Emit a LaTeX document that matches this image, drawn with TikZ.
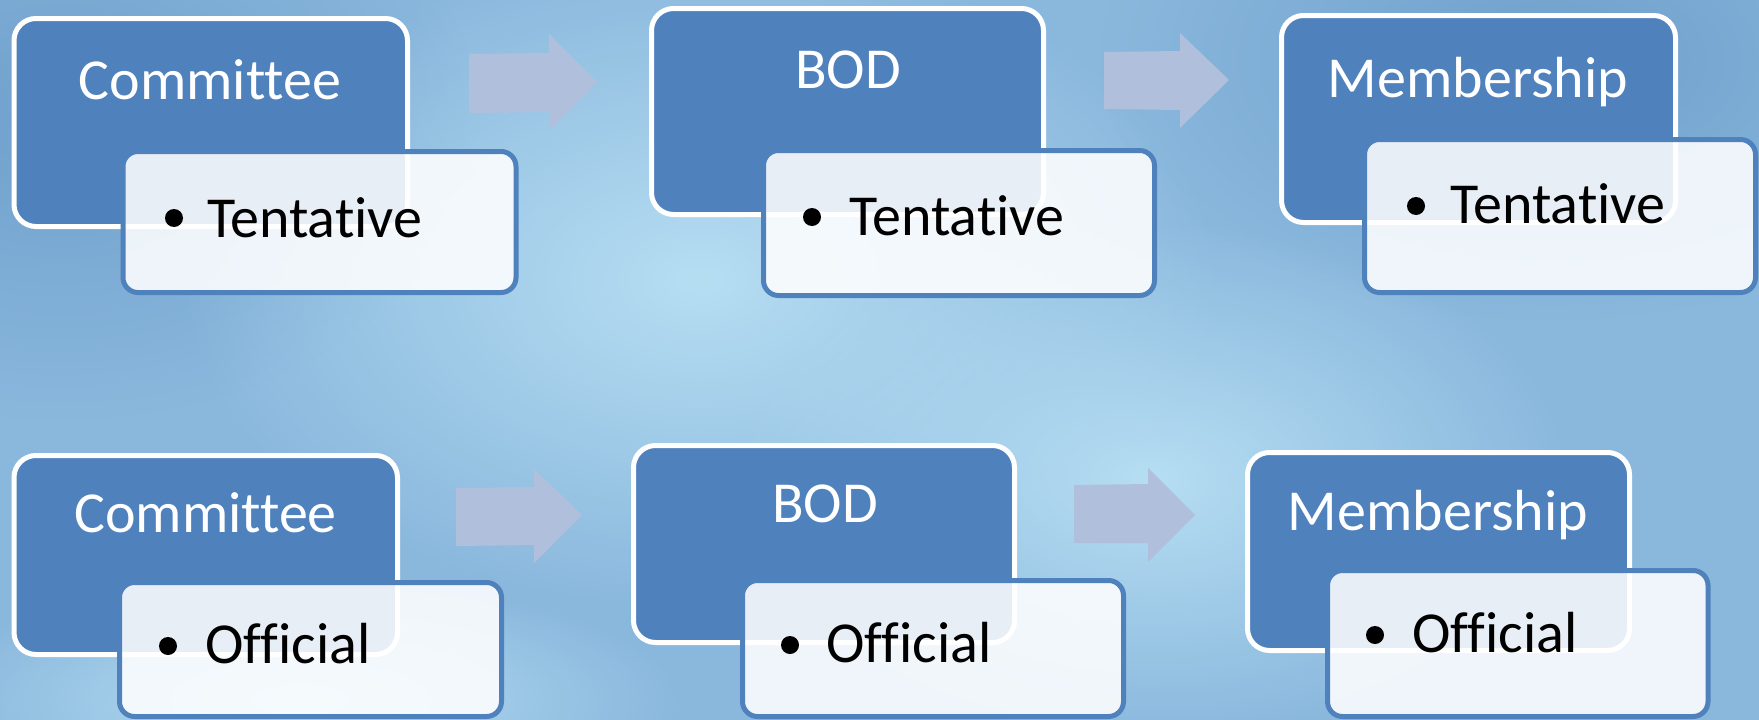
\documentclass[tikz,border=0pt]{standalone}
\usepackage{fontspec}
\setmainfont{Carlito}[Ligatures={NoCommon}]
\usetikzlibrary{fadings}
\definecolor{bgbase}{RGB}{138,184,221}
\definecolor{bgdark}{RGB}{112,160,204}
\definecolor{bglight}{RGB}{182,222,243}
\definecolor{boxblue}{RGB}{79,129,189}
\definecolor{arrowc}{RGB}{176,192,220}
\tikzfading[name=softblob, inner color=transparent!0, outer color=transparent!100]
\tikzset{
  mainbox/.style={draw=white, line width=5pt, fill=boxblue, rounded corners=22pt,
    inner sep=0pt, outer sep=0pt, anchor=north west},
  subbox/.style={draw=boxblue, line width=5pt, fill=white, fill opacity=0.87,
    rounded corners=15pt, inner sep=0pt, outer sep=0pt, anchor=north west},
  headtext/.style={text=white, anchor=base, inner sep=0pt, font=\fontsize{58}{60}\selectfont},
  itemtext/.style={text=black, anchor=base west, inner sep=0pt, font=\fontsize{58}{60}\selectfont},
  bulletdot/.style={circle, fill=black, minimum size=18pt, inner sep=0pt},
  blockarrow/.style={fill=arrowc, draw=none}
}
\begin{document}
\begin{tikzpicture}[x=1pt,y=-1pt]
\useasboundingbox (0,0) rectangle (1759,720);
% background
\fill[bgbase] (0,0) rectangle (1759,720);
\fill[bgdark, path fading=softblob] (60,120) ellipse (420 and 300);
\fill[bgdark, path fading=softblob] (1550,60) ellipse (450 and 260);
\fill[bglight, path fading=softblob] (700,280) ellipse (520 and 330);
\fill[bglight, path fading=softblob] (1150,480) ellipse (420 and 260);
\fill[bglight, path fading=softblob] (300,700) ellipse (380 and 120);

% ---------- top row ----------
\node[mainbox, minimum width=393.5pt, minimum height=208pt] (c1) at (14,18.5) {};
\node[headtext] (c1t) at (210,99) {Committee};
\node[subbox, minimum width=393pt, minimum height=141pt] (t1) at (123,151.5) {};
\node[bulletdot] (t1b) at (174,218) {};
\node[itemtext] (t1t) at (207,237) {Tentative};

\node[mainbox, minimum width=392pt, minimum height=206pt] (b1) at (651.5,8.5) {};
\node[headtext] (b1t) at (848,88) {BOD};
\node[subbox, minimum width=391pt, minimum height=145pt] (t2) at (763.5,150.5) {};
\node[bulletdot] (t2b) at (812,217) {};
\node[itemtext] (t2t) at (849,235) {Tentative};

\node[mainbox, minimum width=394pt, minimum height=207pt] (m1) at (1281.5,15.5) {};
\node[headtext] (m1t) at (1478,97) {Membership};
\node[subbox, minimum width=391pt, minimum height=153pt] (t3) at (1364.5,139.5) {};
\node[bulletdot] (t3b) at (1416,206) {};
\node[itemtext] (t3t) at (1450,223) {Tentative};

% ---------- bottom row ----------
\node[mainbox, minimum width=383.5pt, minimum height=199pt] (c2) at (14,455.5) {};
\node[headtext] (c2t) at (205.5,532) {Committee};
\node[subbox, minimum width=382pt, minimum height=134pt] (o1) at (119.5,582.5) {};
\node[bulletdot] (o1b) at (168,646) {};
\node[itemtext] (o1t) at (205,663) {Official};

\node[mainbox, minimum width=381pt, minimum height=197pt] (b2) at (633.5,445.5) {};
\node[headtext] (b2t) at (825,522) {BOD};
\node[subbox, minimum width=381pt, minimum height=136pt] (o2) at (742.5,580.5) {};
\node[bulletdot] (o2b) at (790,645) {};
\node[itemtext] (o2t) at (826,662) {Official};

\node[mainbox, minimum width=382pt, minimum height=198pt] (m2) at (1247.5,452.5) {};
\node[headtext] (m2t) at (1438,530) {Membership};
\node[subbox, minimum width=380.5pt, minimum height=146pt] (o3) at (1327.5,570.5) {};
\node[bulletdot] (o3b) at (1375,635) {};
\node[itemtext] (o3t) at (1412,652) {Official};

% ---------- block arrows ----------
\fill[blockarrow] (469,54) -- (549,53) -- (549,34) -- (597,82) -- (549,131) -- (549,112) -- (469,113) -- cycle;
\fill[blockarrow] (1104,52) -- (1180,51) -- (1180,33) -- (1229,80) -- (1180,128) -- (1180,110) -- (1104,109) -- cycle;
\fill[blockarrow] (456,488) -- (534,487) -- (534,469) -- (582,515) -- (534,563) -- (534,545) -- (456,546) -- cycle;
\fill[blockarrow] (1074,485) -- (1148,484) -- (1148,468) -- (1195,515) -- (1148,562) -- (1148,543) -- (1074,543) -- cycle;
\end{tikzpicture}
\end{document}
